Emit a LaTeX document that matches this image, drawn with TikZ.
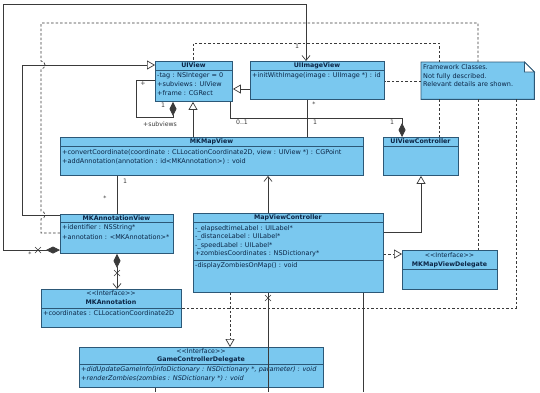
\documentclass[tikz,border=0pt]{standalone}
\usepackage{fontspec}
\setmainfont{DejaVu Sans}
\usetikzlibrary{arrows.meta}
\definecolor{boxfill}{HTML}{7AC8EF}
\definecolor{boxdraw}{HTML}{2C5877}
\definecolor{txt}{HTML}{0B2545}
\definecolor{ln}{HTML}{3A3A3A}
\begin{document}
\begin{tikzpicture}[x=1pt,y=-1pt,
  cls/.style={draw=boxdraw, fill=boxfill, line width=0.9pt, inner sep=0, anchor=north west},
  sepline/.style={draw=boxdraw, line width=0.8pt},
  ttl/.style={font=\fontsize{6.3}{7}\selectfont\bfseries, text=txt, inner sep=0},
  stereo/.style={font=\fontsize{6.3}{7}\selectfont, text=txt, inner sep=0},
  row/.style={font=\fontsize{6.5}{7}\selectfont, text=txt, inner sep=0, anchor=west},
  irow/.style={row, font=\fontsize{6.5}{7}\selectfont\itshape},
  mult/.style={font=\fontsize{6.2}{7}\selectfont, text=ln, inner sep=0},
  conn/.style={draw=ln, line width=0.7pt},
  dconn/.style={conn, dash pattern=on 2.5pt off 2pt},
  gen/.style={-{Triangle[open,fill=white,length=8pt,width=9pt]}},
  nav/.style={-{Straight Barb[length=5pt,width=8pt]}},
  comp/.style={-{Diamond[length=14pt,width=7pt]}},
  xmark/.style={conn, line width=0.6pt}
]
\fill[white] (0,0) rectangle (540,392);
\useasboundingbox (0,0) rectangle (540,392);

% ---------- class boxes ----------
\node[cls, minimum width=77pt, minimum height=40pt] (uiview) at (155,61) {};
\node[cls, minimum width=134pt, minimum height=38pt] (uiiv) at (250,61) {};
\node[inner sep=0, minimum width=113pt, minimum height=37pt, anchor=north west] (note) at (421,62) {};
\node[cls, minimum width=75pt, minimum height=38pt] (uivc) at (383,137) {};
\node[cls, minimum width=303pt, minimum height=38pt] (mkmv) at (60,137) {};
\node[cls, minimum width=113pt, minimum height=39pt] (mkav) at (60,214) {};
\node[cls, minimum width=190pt, minimum height=79pt] (mvc) at (193,213) {};
\node[cls, minimum width=95pt, minimum height=39pt] (mkmvd) at (402,250) {};
\node[cls, minimum width=140pt, minimum height=38pt] (mka) at (41,289) {};
\node[cls, minimum width=244pt, minimum height=40pt] (gcd) at (79,347) {};

% note with folded corner
\draw[draw=boxdraw, fill=boxfill, line width=0.9pt]
  (note.north west) -- ([xshift=-10pt]note.north east) -- ([yshift=-10pt]note.north east)
  -- (note.south east) -- (note.south west) -- cycle;
\draw[draw=boxdraw, fill=white, line width=0.8pt]
  ([xshift=-10pt]note.north east) -- ([xshift=-10pt,yshift=-10pt]note.north east) -- ([yshift=-10pt]note.north east) -- cycle;

% separators
\draw[sepline] (uiview.west |- 0,70) -- (uiview.east |- 0,70);
\draw[sepline] (uiiv.west |- 0,70) -- (uiiv.east |- 0,70);
\draw[sepline] (uivc.west |- 0,146) -- (uivc.east |- 0,146);
\draw[sepline] (mkmv.west |- 0,146) -- (mkmv.east |- 0,146);
\draw[sepline] (mkav.west |- 0,222.5) -- (mkav.east |- 0,222.5);
\draw[sepline] (mvc.west |- 0,222) -- (mvc.east |- 0,222);
\draw[sepline] (mvc.west |- 0,260) -- (mvc.east |- 0,260);
\draw[sepline] (mkmvd.west |- 0,269) -- (mkmvd.east |- 0,269);
\draw[sepline] (mka.west |- 0,308) -- (mka.east |- 0,308);
\draw[sepline] (gcd.west |- 0,364) -- (gcd.east |- 0,364);

% ---------- texts ----------
\node[ttl] at (193.5,65.5) {UIView};
\node[row] at (157,75.5) {-tag : NSInteger = 0};
\node[row] at (157,84.5) {+subviews : UIView};
\node[row] at (157,93.5) {+frame : CGRect};

\node[ttl] at (317,65.5) {UIImageView};
\node[row] at (252,76) {+initWithImage(image : UIImage *) : id};

\node[row, anchor=north west, align=left, font=\fontsize{6.5}{8.6}\selectfont] at (423,64.3)
  {Framework Classes.\\Not fully described.\\Relevant details are shown.};

\node[ttl] at (420.5,141.5) {UIViewController};

\node[ttl] at (211.5,141.5) {MKMapView};
\node[row] at (62,152) {+convertCoordinate(coordinate : CLLocationCoordinate2D, view : UIView *) : CGPoint};
\node[row] at (62,161) {+addAnnotation(annotation : id<MKAnnotation>) : void};

\node[ttl] at (116.5,218) {MKAnnotationView};
\node[row] at (62,227.5) {+identifier : NSString*};
\node[row] at (62,237) {+annotation : <MKAnnotation>*};

\node[ttl] at (288,217.5) {MapViewController};
\node[row] at (195,228.5) {-\_elapsedtimeLabel : UILabel*};
\node[row] at (195,237) {-\_distanceLabel : UILabel*};
\node[row] at (195,245.5) {-\_speedLabel : UILabel*};
\node[row] at (195,254) {+zombiesCoordinates : NSDictionary*};
\node[row] at (195,266) {-displayZombiesOnMap() : void};

\node[stereo] at (449.5,255.5) {{<}{<}Interface{>}{>}};
\node[ttl] at (449.5,264.5) {MKMapViewDelegate};

\node[stereo] at (111,293.5) {{<}{<}Interface{>}{>}};
\node[ttl] at (111,302.5) {MKAnnotation};
\node[row] at (43,313.5) {+coordinates : CLLocationCoordinate2D};

\node[stereo] at (201,351) {{<}{<}Interface{>}{>}};
\node[ttl] at (201,359.5) {GameControllerDelegate};
\node[irow] at (81,369.5) {+didUpdateGameInfo(infoDictionary : NSDictionary *, parameter) : void};
\node[irow] at (81,378.5) {+renderZombies(zombies : NSDictionary *) : void};

% ---------- free ends ----------
\coordinate (end1) at (268,392);
\coordinate (end2) at (363,392);
\coordinate (end3) at (155,392);

% ---------- dashed note links ----------
\draw[dconn] (note.north -| 478,0) -- (478,23) -- (41,23) -- (41,61)
  arc[start angle=90,end angle=-90,radius=4pt] -- (41,211)
  arc[start angle=90,end angle=-90,radius=4pt] -- (41,233) -- (mkav.west |- 0,233);
\draw[dconn] (note.north -| 439,0) -- (439,43) -- (193,43) -- (uiview.north -| 193,0);
\draw[dconn] (note.west |- 0,81) -- (uiiv.east |- 0,81);
\draw[dconn] (note.south -| 439,0) -- (uivc.north -| 439,0);
\draw[dconn] (note.south -| 478,0) -- (mkmvd.north -| 478,0);
\draw[dconn] (note.south -| 516,0) -- (516,308) -- (mka.east |- 0,308);

% ---------- associations ----------
\draw[conn, {Diamond[length=14pt,width=7pt]}-{Straight Barb[length=5pt,width=8pt]}]
  (mkav.west |- 0,250) -- (3,250) -- (3,4) -- (306,4) -- (uiiv.north -| 306,0);
\draw[xmark] (35,247) -- (41,253) (35,253) -- (41,247);
\node[mult] at (30,254) {*};
\node[mult] at (297,46) {1};

\draw[conn, gen] (mkav.west |- 0,215.5) -- (22,215.5) -- (22,65) -- (uiview.west |- 0,65);

\draw[conn, gen] (uiiv.west |- 0,89) -- (uiview.east |- 0,89);

\draw[conn, comp] (uiview.west |- 0,80) -- (136,80) -- (136,117) -- (173,117) -- (uiview.south -| 173,0);
\node[mult] at (143,84) {+};
\node[mult] at (163,105) {1};
\node[mult] at (160,124) {+subviews};

\draw[conn, gen] (mkmv.north -| 193,0) -- (uiview.south -| 193,0);

\draw[conn, comp] (uiview.south -| 230,0) -- (230,118) -- (402,118) -- (uivc.north -| 402,0);
\node[mult] at (242,122.5) {0..1};
\node[mult] at (392,122.5) {1};

\draw[conn] (uiiv.south -| 307,0) -- (mkmv.north -| 307,0);
\node[mult] at (314,104) {*};
\node[mult] at (315,122.5) {1};

\draw[conn] (mkmv.south -| 117,0) -- (mkav.north -| 117,0);
\node[mult] at (125,181) {1};
\node[mult] at (105,198) {*};

\draw[conn, nav] (mvc.north -| 268,0) -- (mkmv.south -| 268,0);

\draw[conn, gen] (mvc.east |- 0,232) -- (421,232) -- (uivc.south -| 421,0);

\draw[dconn, gen] (mvc.east |- 0,254) -- (mkmvd.west |- 0,254);

\draw[dconn, gen] (mvc.south -| 230,0) -- (gcd.north -| 230,0);

\draw[conn] (mvc.south -| 268,0) -- (end1);
\draw[xmark] (265,295) -- (271,301) (265,301) -- (271,295);
\draw[conn] (mvc.south -| 363,0) -- (end2);
\draw[conn] (gcd.south -| 155,0) -- (end3);

\draw[conn, {Diamond[length=14pt,width=7pt]}-{Straight Barb[length=5pt,width=8pt]}]
  (mkav.south -| 117,0) -- (mka.north -| 117,0);
\draw[xmark] (114,270) -- (120,276) (114,276) -- (120,270);
\end{tikzpicture}
\end{document}
